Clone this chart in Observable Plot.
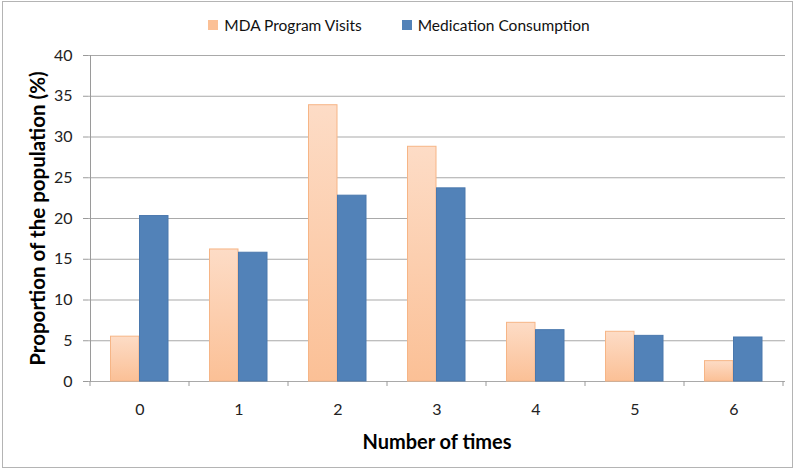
<!DOCTYPE html>
<html><head><meta charset="utf-8">
<script src="https://cdn.jsdelivr.net/npm/d3@7"></script>
<script src="https://cdn.jsdelivr.net/npm/@observablehq/plot@0.6"></script>
<style>
body{margin:0;background:#fff;font-family:Lato,"Open Sans",sans-serif}
#wrap{position:relative;width:800px;height:472px;overflow:hidden;background:#fff}
#border{position:absolute;left:2px;top:1px;width:791px;height:467px;border:1px solid #b4b4b4;pointer-events:none;box-sizing:border-box}
#legend{height:40px;display:flex;align-items:center;justify-content:center;padding-right:2px;padding-top:10px;box-sizing:border-box;font-size:15.5px;color:#111}
.item{display:flex;align-items:center}
.item+.item{margin-left:40px}
.sw{width:10px;height:10px;margin-right:6px}
svg{display:block}
</style></head>
<body>
<div id="wrap">
<div id="legend"></div>
<div id="chart"></div>
<div id="border"></div>
</div>
<script>
const categories = ["0","1","2","3","4","5","6"];
const seriesNames = ["MDA Program Visits","Medication Consumption"];
const mdaVisits = [5.5,16.2,33.9,28.8,7.2,6.1,2.5];
const medication = [20.3,15.8,22.8,23.7,6.3,5.6,5.4];
const yTicks = [0,5,10,15,20,25,30,35,40];
const xTitle = "Number of times";
const yTitle = "Proportion of the population (%)";

const orangeTop = "#fddcc6", orangeBottom = "#fbc096", orangeStroke = "#f6b586";
const blue = "#5282b8", blueStroke = "#4a78ad";

// legend
const legend = document.getElementById("legend");
[[seriesNames[0], orangeBottom],[seriesNames[1], blue]].forEach(([n,c]) => {
  const it = document.createElement("div"); it.className = "item";
  const sw = document.createElement("div"); sw.className = "sw"; sw.style.background = c;
  const tx = document.createElement("span"); tx.textContent = n;
  it.appendChild(sw); it.appendChild(tx); legend.appendChild(it);
});

const mdaRows = categories.map((c,i) => ({cat:c, value:mdaVisits[i]}));
const medRows = categories.map((c,i) => ({cat:c, value:medication[i]}));

const decor = (index, scales, values, dims) => {
  const g = d3.create("svg:g");
  const defs = g.append("defs");
  const lg = defs.append("linearGradient").attr("id","mdaGrad").attr("x1",0).attr("y1",0).attr("x2",0).attr("y2",1);
  lg.append("stop").attr("offset","0%").attr("stop-color",orangeTop);
  lg.append("stop").attr("offset","100%").attr("stop-color",orangeBottom);
  const x = scales.x, y = scales.y;
  const bw = x.bandwidth ? x.bandwidth() : (x(categories[1]) - x(categories[0]));
  const y0 = y(0);
  const bounds = categories.map(c => x(c)).concat([x(categories[categories.length-1]) + bw]);
  g.selectAll("line.t").data(bounds).join("line")
    .attr("x1", d => d).attr("x2", d => d).attr("y1", y0).attr("y2", y0 + 5)
    .attr("stroke", "#9a9a9a");
  const xl = Math.round(x(categories[0])) + 0.5;
  g.append("line").attr("x1", xl).attr("x2", xl)
    .attr("y1", y(0)).attr("y2", y(40)).attr("stroke", "#9a9a9a");
  return g.node();
};

const chart = Plot.plot({
  width: 800,
  height: 432,
  marginLeft: 88,
  marginRight: 15,
  marginTop: 15,
  marginBottom: 91,
  style: {fontFamily: "Lato, 'Open Sans', sans-serif", fontSize: "16px", color: "#222", background: "transparent"},
  x: {domain: categories, padding: 0, label: null},
  y: {domain: [0, 40], label: null},
  marks: [
    Plot.gridY(yTicks, {stroke: "#a9a9a9", strokeOpacity: 1}),
    Plot.barY(mdaRows, {x: "cat", y: "value", fill: "url(#mdaGrad)", stroke: orangeStroke, strokeWidth: 1, insetLeft: 20.5, insetRight: 50}),
    Plot.barY(medRows, {x: "cat", y: "value", fill: blue, stroke: blueStroke, strokeWidth: 1, insetLeft: 49.5, insetRight: 21}),
    Plot.axisY(yTicks, {tickSize: 5, tickPadding: 11, stroke: "#9a9a9a", fill: "#222", fontSize: 16, label: null}),
    Plot.axisX({tickSize: 0, tickPadding: 22, fill: "#222", fontSize: 16, label: null}),
    Plot.text([xTitle], {frameAnchor: "bottom", dy: 61, fontWeight: "bold", fontSize: 20, fill: "#000", lineAnchor: "middle"}),
    Plot.text([yTitle], {frameAnchor: "left", dx: -50, rotate: -90, textAnchor: "middle", fontWeight: "bold", fontSize: 20.5, fill: "#000", lineAnchor: "middle"}),
    decor
  ]
});
document.getElementById("chart").appendChild(chart);
</script>
</body></html>
